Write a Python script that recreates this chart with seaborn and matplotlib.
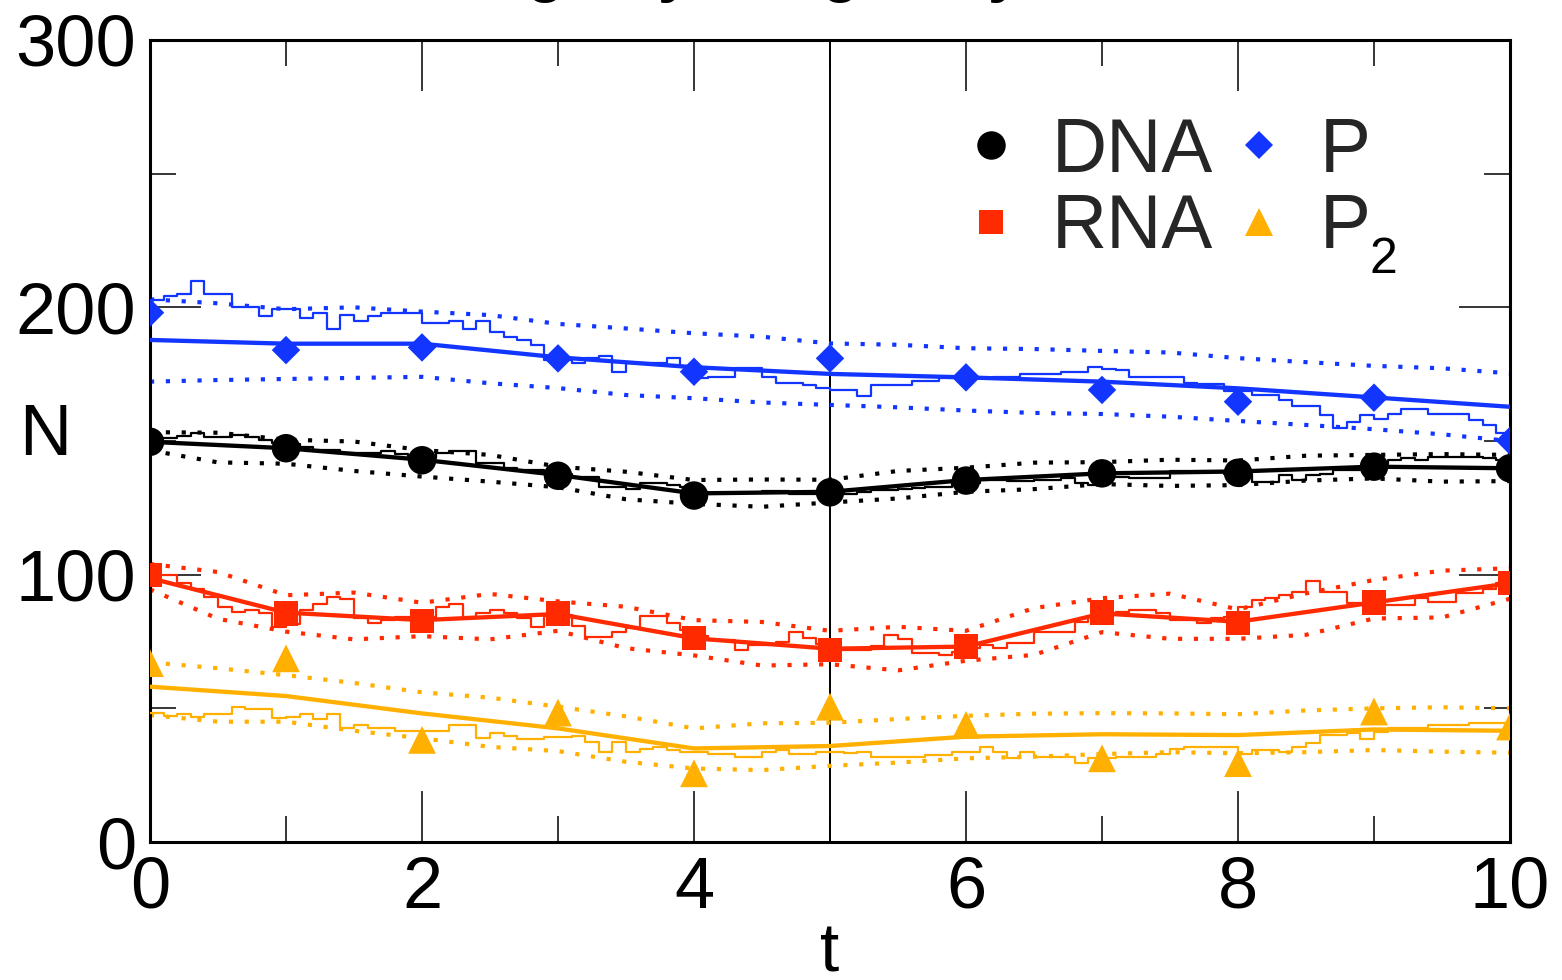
import numpy as np
import matplotlib
matplotlib.use("Agg")
import matplotlib.pyplot as plt
import seaborn as sns
from matplotlib.lines import Line2D
from matplotlib.ticker import MultipleLocator

sns.set_theme(style="white")
plt.rcParams["font.family"] = ["Liberation Sans", "DejaVu Sans"]
plt.rcParams["mathtext.fontset"] = "custom"
plt.rcParams["mathtext.rm"] = "Liberation Sans"

# ---------------- data ----------------
labels = ["DNA", "RNA", "P", "P"]
subscripts = ["", "", "", "2"]
colors = ["#000000", "#FF2A00", "#1236FF", "#FFB000"]
markers = ["o", "s", "D", "^"]
marker_sizes = [20.5, 17.5, 14.5, 20]

t_obs = [0, 1, 2, 3, 4, 5, 6, 7, 8, 9, 10]
dna_obs = [149.7, 147.3, 142.8, 137.0, 129.6, 130.8, 135.2, 137.9, 138.1, 140.4, 139.8]
rna_obs = [99.9, 85.5, 82.6, 85.5, 76.2, 71.8, 73.1, 85.8, 82.0, 89.6, 96.8]
p_obs = [198.0, 184.0, 185.0, 180.9, 175.9, 180.9, 173.8, 169.1, 164.7, 166.2, 150.1]
p2_obs = [66.9, 68.7, 38.2, 48.4, 25.7, 50.6, 43.8, 31.3, 29.5, 48.8, 43.2]

dna_mean = [149.7, 147.3, 143.0, 137.3, 130.4, 131.0, 135.4, 137.9, 138.6, 140.4, 139.8]
rna_mean = [98.7, 85.8, 83.0, 85.3, 76.2, 72.3, 73.1, 85.5, 82.4, 89.6, 96.8]
p_mean = [187.8, 186.4, 186.4, 181.3, 177.6, 175.1, 173.8, 172.2, 169.7, 166.3, 162.8]
p2_mean = [58.1, 54.6, 48.1, 42.5, 35.0, 35.9, 39.4, 40.3, 40.0, 42.1, 41.6]

t_band = [0, 0.5, 1, 1.5, 2, 2.5, 3, 3.5, 4, 4.5, 5, 5.5, 6, 6.5, 7, 7.5, 8, 8.5, 9, 9.5, 10]
dna_upper = [153.3, 153.1, 150.5, 149.8, 146.6, 144.8, 140.4, 138.5, 135.4, 135.6, 135.5,
             138.8, 140.0, 141.9, 142.1, 143.0, 142.7, 144.5, 144.8, 145.1, 144.8]
dna_lower = [146.5, 142.0, 141.5, 138.8, 136.7, 134.8, 132.7, 128.2, 126.5, 125.4, 127.0,
             128.5, 131.0, 132.0, 133.9, 133.2, 133.5, 135.2, 136.0, 134.8, 135.0]
rna_upper = [104.0, 101.0, 92.3, 93.3, 89.5, 92.8, 90.0, 88.0, 83.0, 82.3, 79.0,
             80.5, 79.0, 87.5, 91.2, 92.9, 87.0, 93.0, 98.0, 101.5, 102.4]
rna_lower = [94.5, 83.5, 78.7, 75.8, 77.0, 75.8, 79.0, 72.5, 69.8, 66.0, 66.5,
             64.2, 67.8, 70.0, 78.5, 76.0, 76.0, 77.5, 83.6, 84.0, 91.0]
p_upper = [203.0, 201.5, 199.3, 200.0, 198.4, 197.1, 193.8, 192.1, 190.3, 189.0, 186.5,
           186.0, 184.7, 184.4, 183.7, 183.1, 181.0, 179.5, 178.1, 177.2, 175.3]
p_lower = [172.2, 172.8, 173.2, 173.6, 174.0, 171.6, 169.8, 167.2, 166.0, 164.4, 163.5,
           162.6, 161.4, 160.5, 160.1, 159.1, 157.5, 156.0, 154.4, 152.5, 150.0]
p2_upper = [67.2, 65.0, 62.4, 59.5, 56.0, 54.0, 50.6, 47.0, 42.5, 44.4, 44.6,
            46.0, 47.2, 48.0, 48.2, 48.1, 47.8, 49.2, 50.0, 50.4, 50.0]
p2_lower = [47.5, 45.0, 45.0, 41.6, 38.8, 35.6, 34.0, 30.0, 27.5, 26.9, 28.5,
            29.7, 31.3, 31.9, 32.9, 33.6, 33.2, 33.6, 34.4, 33.8, 33.4]

t_step = np.round(np.linspace(0, 10, 101), 1)
dna_step = [151, 151, 152, 153, 151.6, 151.6, 152.4, 151.6, 150.4, 149.4,
            149, 147.9, 146.6, 146.6, 145.6, 145.6, 145.6, 146.1, 145, 144,
            143.5, 145.6, 146.4, 146.1, 141.9, 141.9, 139.8, 139.2, 139.2, 137.9,
            137.5, 136.7, 136.7, 132.9, 132.9, 131.9, 134.2, 134.2, 133.5, 132.9,
            130.8, 130.4, 130.4, 130.4, 130.4, 131.4, 131.4, 130.2, 130.2, 130.2,
            130.4, 130.2, 131, 131.5, 131.5, 132, 132.3, 132.9, 132.9, 134.2,
            134.2, 135.4, 135.4, 135.2, 135.2, 135.4, 135.4, 136, 134.2, 133.5,
            136.7, 136.7, 136, 136, 136, 138.9, 138.9, 138.6, 138.6, 137.7,
            137.7, 134.8, 134.8, 137.3, 135.4, 137.3, 137.7, 139.2, 139.2, 140.4,
            141.4, 142.9, 143.5, 142.9, 144.2, 144.2, 144.2, 144.2, 143.5, 142.9,
            142.9]
rna_step = [99.9, 99.9, 96.8, 94.5, 91.8, 88, 86.2, 86.8, 85.5, 80.6,
            81.5, 86.8, 89, 91.8, 90.8, 83.7, 81.8, 83, 84.3, 84.3,
            84, 87.8, 89, 84.3, 85.8, 86.8, 85.8, 83.7, 80.6, 84.5,
            85, 80.8, 76.6, 76.6, 78.7, 79.9, 84.7, 84.7, 81.8, 79.3,
            77, 75.6, 75.6, 71.8, 73.7, 73.7, 74.9, 78.7, 76.2, 74,
            72, 71.8, 71.8, 73.3, 77.4, 75.8, 70.8, 70.8, 70, 71,
            72.5, 73.7, 72.7, 74.3, 74.3, 78.7, 78.7, 78.7, 82.4, 84.3,
            85.5, 86, 86.8, 86.8, 85.8, 83, 83, 82, 83.7, 84,
            88, 90.5, 91.2, 92.4, 93.6, 97.8, 93.6, 93.6, 89.3, 89.5,
            88.7, 88.7, 88.7, 91.2, 89.9, 89.9, 93, 93, 94.5, 96.8,
            97]
p_step = [202.7, 204.2, 205, 210, 205, 205, 200, 200, 196.9, 199.2,
          199.2, 195.9, 198, 191.9, 197.1, 195, 196.8, 198, 198, 198,
          194.3, 194.3, 195, 191.9, 195, 190.9, 189, 187.8, 185.9, 180.3,
          180.3, 179, 180.9, 181.8, 175.9, 179, 179, 179, 180.9, 177.8,
          173.4, 174, 174, 177.2, 177.2, 173.8, 171.8, 171.8, 171, 170,
          169.1, 169.1, 166.8, 171, 171, 171, 172.6, 172.6, 173.4, 173.4,
          173.4, 173.4, 173.8, 173.8, 175.1, 175.1, 175.1, 175.9, 175.9, 177.8,
          177, 176.6, 174, 174, 174, 174, 171.8, 171.3, 171.3, 168.8,
          168.8, 167.2, 167.2, 165.3, 163.1, 163.1, 159.7, 154.7, 157.2, 159.7,
          158.1, 160.1, 161.8, 161.8, 160.1, 160.1, 160.1, 157.9, 156, 152.9,
          150]
p2_step = [48.1, 47.3, 47.8, 46.9, 47.9, 47.9, 50.6, 49.6, 49.6, 46.5,
           46.9, 47.8, 45.9, 47.8, 42.8, 43.8, 42.8, 42.8, 41.6, 41.6,
           41.6, 41.6, 43.8, 43.8, 38.8, 40.6, 39.7, 38.5, 38.5, 39.4,
           39.4, 39.7, 37.5, 33.8, 37.5, 33.8, 34.7, 35.6, 34.4, 33.8,
           33.8, 32.9, 32.9, 31.7, 31.7, 33.8, 34.4, 32.9, 32.9, 33.8,
           33.8, 33.3, 33.8, 31.7, 31.7, 31.7, 31.7, 32.5, 32.5, 33.8,
           33.8, 35.6, 33.8, 31.3, 33.8, 31.7, 31.7, 31.7, 29.7, 31.3,
           31.3, 31.7, 31.7, 31.7, 32.9, 34.7, 35.6, 35.6, 35.6, 35.6,
           32.9, 34.4, 34.4, 33.8, 35.6, 37.2, 40, 40, 40.9, 38.4,
           41.3, 42.5, 42.5, 42.5, 43.8, 43.8, 43.8, 44.6, 44.6, 44.6,
           44.6]

x_major = [0, 2, 4, 6, 8, 10]
y_major = [0, 100, 200, 300]

obs = [dna_obs, rna_obs, p_obs, p2_obs]
means = [dna_mean, rna_mean, p_mean, p2_mean]
uppers = [dna_upper, rna_upper, p_upper, p2_upper]
lowers = [dna_lower, rna_lower, p_lower, p2_lower]
steps = [dna_step, rna_step, p_step, p2_step]

# ---------------- figure ----------------
fig = plt.figure(figsize=(15.62, 9.8), dpi=100)
ax = fig.add_axes([150 / 1562, 138 / 980, 1360 / 1562, 802 / 980])
ax.set_facecolor("white")

ax.axvline(5, color="black", lw=1.4, zorder=1)

dot_style = (0, (1, 2.8))
for i in range(4):
    c = colors[i]
    sns.lineplot(x=t_band, y=uppers[i], ax=ax, color=c, lw=3, linestyle=dot_style,
                 estimator=None, zorder=2)
    sns.lineplot(x=t_band, y=lowers[i], ax=ax, color=c, lw=3, linestyle=dot_style,
                 estimator=None, zorder=2)
    sns.lineplot(x=t_step, y=steps[i], ax=ax, color=c, lw=1.6, drawstyle="steps-post",
                 estimator=None, zorder=3)
    sns.lineplot(x=t_obs, y=means[i], ax=ax, color=c, lw=3.1, estimator=None, zorder=4)
    sns.scatterplot(x=t_obs, y=obs[i], ax=ax, color=c, marker=markers[i],
                    s=marker_sizes[i] ** 2, edgecolor="none", linewidth=0, zorder=5)

ax.set_xlim(0, 10)
ax.set_ylim(0, 300)
ax.xaxis.set_minor_locator(MultipleLocator(1))
ax.yaxis.set_minor_locator(MultipleLocator(50))
ax.set_xticks(x_major)
ax.set_xticklabels([str(v) for v in x_major])
ax.set_yticks(y_major)
ax.set_yticklabels([str(v) for v in y_major])

ax.tick_params(which="both", direction="in", top=True, right=True, bottom=True,
               left=True, color="black", width=1.1, labelsize=52, labelcolor="black")
ax.tick_params(which="major", length=37, pad=10)
ax.tick_params(which="minor", length=19)
for sp in ax.spines.values():
    sp.set_color("black")
    sp.set_linewidth(2.2)
    sp.set_visible(True)

ax.set_xlabel("t", fontsize=50, color="black")
ax.set_ylabel("N", fontsize=52, color="black", rotation=0, ha="center", va="center")
ax.xaxis.set_label_coords(0.5, (842 - 971) / 802)
ax.xaxis.label.set_va("baseline")
ax.yaxis.set_label_coords(-0.077, 0.505)

handles = [Line2D([], [], ls="none", marker=markers[i], color=colors[i],
                  markersize=marker_sizes[i], markeredgewidth=0) for i in range(4)]
leg = ax.legend(handles=handles, labels=labels, ncol=2, frameon=False, fontsize=55,
                loc="upper left", bbox_to_anchor=(960 / 1562, 1 - 117 / 980),
                bbox_transform=fig.transFigure, handlelength=0.8, handletextpad=0.4,
                columnspacing=0.2, labelspacing=0.07, borderpad=0, borderaxespad=0)
leg.set_zorder(6)
for txt, sub in zip(leg.get_texts(), subscripts):
    if sub:
        ann = ax.annotate(sub, xy=(1, 0), xycoords=txt, xytext=(-1, -6.5),
                          textcoords="offset points", fontsize=36, color="black",
                          ha="left", va="baseline", annotation_clip=False)
        ann.set_zorder(20)

# clipped title letters at the very top
for ch, xp in [("g", 545), ("y", 675), ("g", 840), ("y", 1005)]:
    fig.text(xp / 1562, 1 + 10 / 980, ch, fontsize=44, fontweight="bold",
             ha="center", va="baseline", color="black")

fig.savefig("out.png", dpi=100, facecolor="white")
